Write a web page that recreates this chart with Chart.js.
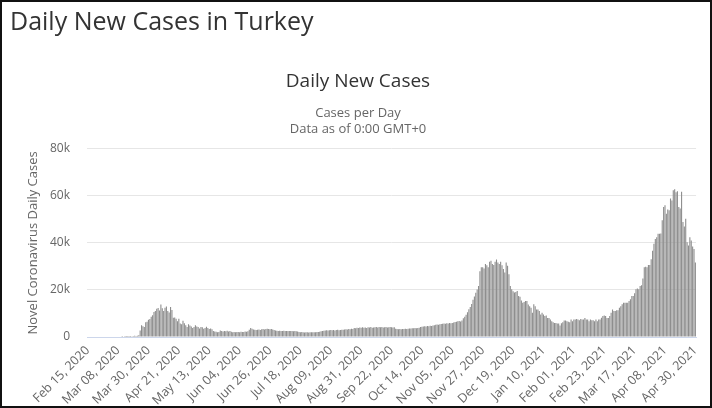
<!DOCTYPE html>
<html>
<head>
<meta charset="utf-8">
<title>Daily New Cases in Turkey</title>
<script src="https://cdn.jsdelivr.net/npm/chart.js@4.4.1/dist/chart.umd.min.js"></script>
<style>
	html, body { margin: 0; padding: 0; background: #fff; }
	#chartWrap { position: absolute; left: 12px; top: 0; width: 700px; height: 408px; }
	#frame { position: absolute; left: 0; top: 0; width: 712px; height: 408px; box-sizing: border-box; border: 2px solid #111; pointer-events: none; }
	#heading { position: absolute; left: 10px; top: 8px; margin: 0; font-family: "Open Sans", sans-serif; font-weight: normal; font-size: 25px; line-height: 25px; color: #333; }
</style>
</head>
<body>
<div id="chartWrap"><canvas id="casesChart" width="700" height="408"></canvas></div>
<h1 id="heading">Daily New Cases in Turkey</h1>
<div id="frame"></div>
<script>
// DATA
const startDate = Date.UTC(2020, 1, 15); // Feb 15, 2020, first category
const monthNames = ["Jan", "Feb", "Mar", "Apr", "May", "Jun", "Jul", "Aug", "Sep", "Oct", "Nov", "Dec"];

// tick labels shown on the x axis
const tickLabels = [
	"Feb 15, 2020", "Mar 08, 2020", "Mar 30, 2020", "Apr 21, 2020", "May 13, 2020",
	"Jun 04, 2020", "Jun 26, 2020", "Jul 18, 2020", "Aug 09, 2020", "Aug 31, 2020",
	"Sep 22, 2020", "Oct 14, 2020", "Nov 05, 2020", "Nov 27, 2020", "Dec 19, 2020",
	"Jan 10, 2021", "Feb 01, 2021", "Feb 23, 2021", "Mar 17, 2021", "Apr 08, 2021",
	"Apr 30, 2021"
];

const yTickLabels = {0: "0", 20000: "20k", 40000: "40k", 60000: "60k", 80000: "80k"};

// daily new cases, one value per day from Feb 15, 2020 to Apr 30, 2021
const dailyCases = [
	// Feb 15 - Mar 10, 2020
	0, 0, 0, 0, 0, 0, 0, 0, 0, 0, 0, 0, 0, 0, 0, 0, 0, 0, 0, 0, 0, 0, 0, 0, 0,
	// Mar 11 - Mar 23
	1, 0, 4, 1, 12, 29, 51, 300, 420, 480, 380, 520, 700,
	// Mar 24 - Apr 21
	2800, 5000, 4600, 4300, 6300, 6500, 7300, 7600, 8600, 9200, 10600, 11000, 12000, 12300, 11300,
	13800, 12200, 11000, 12400, 13000, 11000, 10400, 12800, 11500, 8200, 8300, 7800, 6700, 7800,
	// Apr 22 - May 17
	5700, 5400, 6900, 5800, 5000, 4300, 5400, 4900, 4500, 3800, 4300, 5000, 4500, 4200, 3600,
	4200, 4100, 3500, 3800, 4400, 3800, 3400, 3600, 3300, 2500, 2300,
	// May 18 - Jun 10
	2200, 2000, 2100, 2800, 2500, 2300, 2600, 2400, 2700, 2300, 2500, 2200, 2000, 2100, 2000,
	2100, 2100, 2000, 2200, 2100, 2100, 2300, 2200, 2400,
	// Jun 11 - Jun 29
	3100, 3800, 3500, 3200, 3100, 3000, 3100, 3200, 3000, 3300, 3400, 3200, 3400, 3500, 3400,
	3300, 3400, 3200, 3000,
	// Jun 30 - Jul 14
	2800, 2700, 2600, 2700, 2600, 2500, 2700, 2600, 2500, 2600, 2500, 2600, 2500, 2400, 2500,
	// Jul 15 - Aug 03
	2400, 2300, 2100, 2000, 2100, 2000, 1950, 2000, 2000, 1950, 2000, 2000, 2050, 2000, 2000,
	2100, 2100, 2200, 2400, 2600,
	// Aug 04 - Aug 25
	2700, 2800, 2900, 2800, 2900, 3000, 2900, 3000, 2800, 3000, 3100, 2900, 3000, 3100, 3100,
	3200, 3300, 3200, 3400, 3300, 3500, 3400,
	// Aug 26 - Sep 24
	3800, 3700, 3900, 3800, 4000, 3900, 4100, 3900, 4000, 3800, 4100, 4000, 4200, 3900, 4000,
	4100, 4200, 4000, 4200, 4100, 4300, 4000, 4100, 4200, 4000, 4100, 4200, 4100, 4000, 4100,
	// Sep 25 - Oct 12
	3500, 3400, 3300, 3400, 3300, 3400, 3400, 3500, 3400, 3500, 3600,
	3600, 3700, 3700, 3800, 3700, 3800, 3900,
	// Oct 13 - Nov 07
	4200, 4400, 4500, 4600, 4500, 4700, 4600, 4800, 4700, 4900,
	5000, 5200, 5300, 5200, 5400, 5500,
	5600, 5700, 5600, 5800, 5700, 5900, 5800, 6000,
	6200, 6400, 6500, 6700, 6800, 6600, 7000,
	// Nov 14 - Nov 24
	8000, 8600, 9500, 10500, 11800, 12800, 14000, 15800, 17200, 18800, 20200, 21700,
	// Nov 25 - Dec 17
	28000, 29600, 29600, 29100, 31000, 30500, 29600, 32000, 32400, 31000, 30600, 32000, 32900,
	31700, 31000, 32000, 30500, 28900, 27400, 31700, 30300, 26700, 21700,
	// Dec 18, 2020 - Jan 16, 2021
	20300, 19500, 18900, 19100, 19600, 17400, 17100, 15500, 14600, 14900,
	15300, 15300, 13800, 13100, 12400, 10300, 13900, 13100, 11700, 11700,
	11000, 9600, 10300, 9600, 8900, 9100, 8100, 8100, 7400, 6700,
	// Jan 17 - Feb 25
	6300, 6000, 6000, 5700, 5700, 4900, 5800, 6300, 7000, 7000,
	6700, 6500, 6300, 7400, 6700, 7400, 7400, 7700, 7400, 7100,
	7700, 7400, 7400, 8100, 7400, 7400, 6700, 7400, 7100, 7100,
	6700, 7400, 6700, 7400, 7400, 8200, 8900, 9100, 8900, 8100,
	// Feb 26 - Mar 27
	8100, 8900, 10300, 11700, 11000, 11000, 11400, 11400, 12400, 13100,
	13900, 14600, 14600, 14600, 14600, 15300, 16000, 17400, 17400, 18600,
	20300, 20600, 20300, 21700, 22000, 24900, 29600, 29900, 29600, 30600,
	// Mar 28 - Apr 30
	30600, 33100, 36700, 39600, 41700, 42400, 43900, 43900, 44000, 49600,
	55300, 56000, 52400, 54200, 53900, 58900, 58000, 62400, 62800, 61500,
	62000, 55300, 54600, 61700, 48900, 47000, 50300, 40300, 38900, 42400,
	41000, 38500, 37400, 31700
];

function formatDay(ms) {
	const d = new Date(ms);
	const day = String(d.getUTCDate()).padStart(2, "0");
	return monthNames[d.getUTCMonth()] + " " + day + ", " + d.getUTCFullYear();
}

const dayLabels = dailyCases.map((_, i) => formatDay(startDate + i * 86400000));

const FONT = "'Open Sans', sans-serif";

const ctx = document.getElementById("casesChart");
const casesChart = new Chart(ctx, {
	type: "bar",
	data: {
		labels: dayLabels,
		datasets: [{
			label: "Daily Cases",
			data: dailyCases,
			backgroundColor: "#8e8e8e",
			barPercentage: 0.8,
			categoryPercentage: 1
		}]
	},
	options: {
		responsive: false,
		animation: false,
		layout: {padding: {left: 0, right: 8, top: 0, bottom: 0}},
		plugins: {
			legend: {display: false},
			tooltip: {enabled: false},
			title: {
				display: true,
				text: "Daily New Cases",
				color: "#333",
				font: {family: FONT, size: 19, weight: "normal", lineHeight: 1.2},
				padding: {top: 70, bottom: 3}
			},
			subtitle: {
				display: true,
				text: ["Cases per Day", "Data as of 0:00 GMT+0"],
				color: "#666",
				font: {family: FONT, size: 13, weight: "normal", lineHeight: "16px"},
				padding: {top: 9, bottom: 12}
			}
		},
		scales: {
			x: {
				grid: {display: false, drawTicks: false},
				border: {display: true, color: "#ccd6eb"},
				ticks: {
					autoSkip: false,
					minRotation: 45,
					maxRotation: 45,
					color: "#666",
					font: {family: FONT, size: 12.5},
					padding: 6,
					callback: function (value) {
						const label = this.getLabelForValue(value);
						return tickLabels.includes(label) ? label : null;
					}
				},
				afterFit: (scale) => { scale.height = 71; }
			},
			y: {
				min: 0,
				max: 80000,
				border: {display: false},
				grid: {
					drawTicks: false,
					color: (c) => c.tick && c.tick.value === 0 ? "rgba(0,0,0,0)" : "#e6e6e6"
				},
				ticks: {
					stepSize: 20000,
					color: "#666",
					font: {family: FONT, size: 12},
					padding: 17,
					callback: (v) => yTickLabels[v]
				},
				title: {
					display: true,
					text: "Novel Coronavirus Daily Cases",
					color: "#666",
					font: {family: FONT, size: 13},
					padding: {top: 13, bottom: 0}
				},
				afterFit: (scale) => { scale.width = 75; }
			}
		}
	}
});
</script>
</body>
</html>
